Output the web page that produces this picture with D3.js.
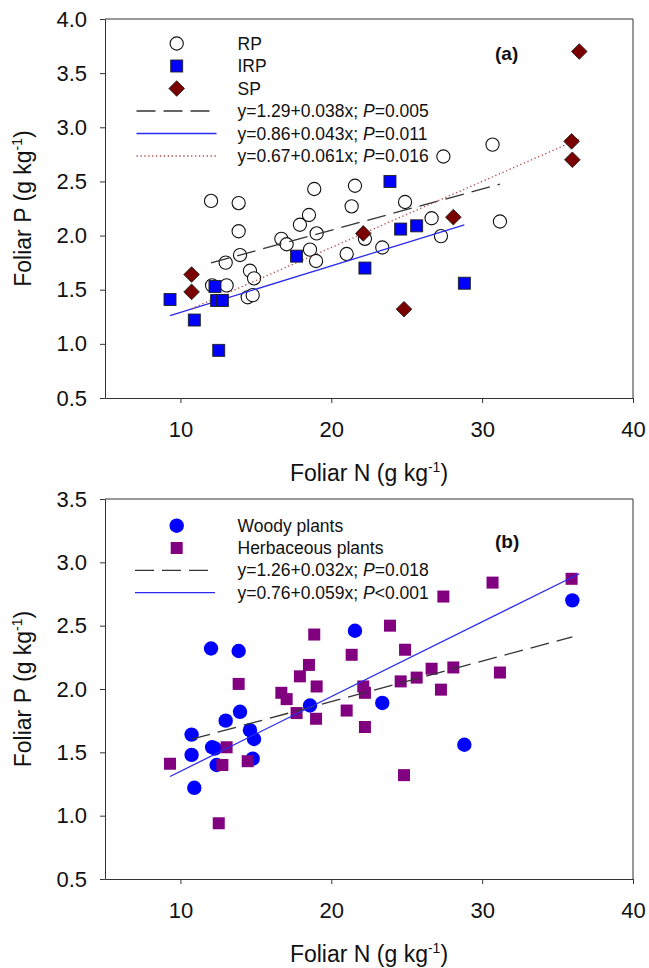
<!DOCTYPE html>
<html>
<head>
<meta charset="utf-8">
<script src="https://cdn.jsdelivr.net/npm/d3@7"></script>
<style>
  body { margin: 0; background: #fff; }
  svg { display: block; font-family: 'Liberation Sans', Arial, sans-serif; }
</style>
</head>
<body>
<div id="chart"></div>
<script>
// ---------- panel (a) : reproductive types ----------
var rpN = [12.03, 13.86, 13.86, 13.95, 13.00, 14.61, 14.88, 13.06, 12.10, 14.46, 14.79, 16.69, 17.04, 17.92, 18.52,
  19.03, 18.59, 18.99, 21.02, 21.35, 18.87, 21.57, 24.89, 22.23, 23.38, 26.65, 27.27, 31.18, 30.69, 27.43]
var rpP = [2.32, 2.30, 2.04, 1.82, 1.75, 1.675, 1.605, 1.54, 1.54, 1.43, 1.45, 1.97, 1.92, 2.10, 2.19,
  2.02, 1.87, 1.765, 1.83, 2.27, 2.43, 2.46, 2.31, 1.97, 1.89, 2.16, 1.995, 2.13, 2.84, 2.73]
var irpN = [9.31, 10.92, 12.54, 12.29, 12.40, 12.78, 17.70, 24.60, 25.66, 22.23, 28.82, 23.89]
var irpP = [1.41, 1.22, 0.94, 1.53, 1.40, 1.40, 1.81, 2.06, 2.09, 1.70, 1.56, 2.50]
var spN = [10.74, 10.74, 22.12, 28.09, 24.82, 36.44, 35.93, 35.98]
var spP = [1.64, 1.48, 2.02, 2.17, 1.32, 3.70, 2.87, 2.70]

// ---------- panel (b) : life forms ----------
var woodyN = [12.03, 13.86, 13.95, 13.00, 14.61, 14.88, 12.10, 14.79, 18.59, 21.57, 23.38,
  10.92, 12.29, 12.40, 28.82, 10.74, 10.74, 35.98]
var woodyP = [2.32, 2.30, 1.82, 1.75, 1.675, 1.605, 1.54, 1.45, 1.87, 2.46, 1.89,
  1.22, 1.53, 1.40, 1.56, 1.64, 1.48, 2.70]
var herbN = [13.86, 13.06, 14.46, 16.69, 17.04, 17.92, 18.52, 19.03, 18.99, 21.02, 21.35, 18.87, 24.89, 22.23,
  26.65, 27.27, 31.18, 30.69, 27.43, 9.31, 12.54, 12.78, 17.70, 24.60, 25.66, 22.23, 23.89,
  22.12, 28.09, 24.82, 36.44, 35.93]
var herbP = [2.04, 1.54, 1.43, 1.97, 1.92, 2.10, 2.19, 2.02, 1.765, 1.83, 2.27, 2.43, 2.31, 1.97,
  2.16, 1.995, 2.13, 2.84, 2.73, 1.41, 0.94, 1.40, 1.81, 2.06, 2.09, 1.70, 2.50,
  2.02, 2.17, 1.32, 3.70, 2.87]

// regressions (intercept, slope, P text)
var fitsA = [
  { name: 'RP', a: 1.29, b: 0.038, p: '=0.005' },
  { name: 'IRP', a: 0.86, b: 0.043, p: '=0.011' },
  { name: 'SP', a: 0.67, b: 0.061, p: '=0.016' }
]
var fitsB = [
  { name: 'Woody plants', a: 1.26, b: 0.032, p: '=0.018' },
  { name: 'Herbaceous plants', a: 0.76, b: 0.059, p: '<0.001' }
]

var xTicks = [10, 20, 30, 40]
var yTicksA = d3.range(0.5, 4.01, 0.5)
var yTicksB = d3.range(0.5, 3.51, 0.5)

var W = 649
var H = 968
var left = 105
var right = 633
var lineStyle = {
  dash: { stroke: '#333', dash: '19,8', w: 1.3 },
  blue: { stroke: '#2a2aee', dash: null, w: 1.3 },
  dot: { stroke: '#b04a4a', dash: '1.3,2.6', w: 1.3 }
}

var svg = d3.select('#chart').append('svg')
  .attr('width', W)
  .attr('height', H)

function zip (xs, ys) {
  return xs.map(function (v, i) { return { n: v, p: ys[i] } })
}

// frame, axes, titles
function panel (top, bottom, yMax, yTicks, id) {
  var x = d3.scaleLinear().domain([5, 40]).range([left, right])
  var y = d3.scaleLinear().domain([0.5, yMax]).range([bottom, top])
  var g = svg.append('g')

  g.append('clipPath').attr('id', id)
    .append('rect')
    .attr('x', left).attr('y', top)
    .attr('width', right - left).attr('height', bottom - top)

  var xAxis = g.append('g')
    .attr('transform', 'translate(0,' + bottom + ')')
    .call(d3.axisBottom(x).tickValues(xTicks).tickSize(5).tickPadding(18).tickSizeOuter(0))
  var yAxis = g.append('g')
    .attr('transform', 'translate(' + left + ',0)')
    .call(d3.axisLeft(y).tickValues(yTicks).tickFormat(d3.format('.1f')).tickSize(5).tickPadding(13).tickSizeOuter(0))
  ;[xAxis, yAxis].forEach(function (a) {
    a.select('.domain').attr('stroke', '#333')
    a.selectAll('.tick line').attr('stroke', '#333')
    a.selectAll('.tick text').attr('fill', '#111').style('font-size', '22px')
  })

  // top + right of box
  g.append('path')
    .attr('d', 'M' + left + ',' + top + 'H' + right + 'V' + bottom)
    .attr('fill', 'none')
    .attr('stroke', '#333')

  var xt = g.append('text')
    .attr('x', (left + right) / 2)
    .attr('y', bottom + 83)
    .attr('text-anchor', 'middle')
    .attr('fill', '#111')
    .style('font-size', '23px')
  unitText(xt, 'Foliar N (g kg')

  var yt = g.append('text')
    .attr('transform', 'translate(31,' + (top + bottom) / 2 + ')rotate(-90)')
    .attr('text-anchor', 'middle')
    .attr('fill', '#111')
    .style('font-size', '23px')
  unitText(yt, 'Foliar P (g kg')

  return { g: g, x: x, y: y }
}

function unitText (t, s) {
  t.append('tspan').text(s)
  t.append('tspan').attr('dy', -9).style('font-size', '14px').text('-1')
  t.append('tspan').attr('dy', 9).text(')')
}

function fitLine (g, x, y, fit, xs, st, clip) {
  var ext = d3.extent(xs)
  g.append('line')
    .attr('clip-path', clip ? 'url(#' + clip + ')' : null)
    .attr('x1', x(ext[0])).attr('y1', y(fit.a + fit.b * ext[0]))
    .attr('x2', x(ext[1])).attr('y2', y(fit.a + fit.b * ext[1]))
    .attr('stroke', st.stroke)
    .attr('stroke-width', st.w)
    .attr('stroke-dasharray', st.dash)
}

function legendText (g, xx, yy, s) {
  var t = g.append('text')
    .attr('x', xx).attr('y', yy)
    .attr('fill', '#111')
    .style('font-size', '17.5px')
  if (typeof s === 'string') {
    t.text(s)
  } else {
    t.append('tspan').text('y=' + s.a.toFixed(2) + '+' + s.b.toFixed(3) + 'x; ')
    t.append('tspan').style('font-style', 'italic').text('P')
    t.append('tspan').text(s.p)
  }
}

var diamond = 'M0,-7.8L7.8,0L0,7.8L-7.8,0Z'

// ================= panel (a) =================
var pa = panel(19, 398, 4.0, yTicksA, 'clipA')

pa.g.selectAll('.rp').data(zip(rpN, rpP)).enter()
  .append('circle')
  .attr('cx', function (d) { return pa.x(d.n) })
  .attr('cy', function (d) { return pa.y(d.p) })
  .attr('r', 6.6)
  .attr('fill', '#fff')
  .attr('stroke', '#111')
  .attr('stroke-width', 1.1)

fitLine(pa.g, pa.x, pa.y, fitsA[0], rpN, lineStyle.dash)
fitLine(pa.g, pa.x, pa.y, fitsA[1], irpN, lineStyle.blue)
fitLine(pa.g, pa.x, pa.y, fitsA[2], spN, lineStyle.dot)

pa.g.selectAll('.irp').data(zip(irpN, irpP)).enter()
  .append('rect')
  .attr('x', function (d) { return pa.x(d.n) - 6 })
  .attr('y', function (d) { return pa.y(d.p) - 6 })
  .attr('width', 12).attr('height', 12)
  .attr('fill', '#0000ff')
  .attr('stroke', '#222')
  .attr('stroke-width', 0.9)

pa.g.selectAll('.sp').data(zip(spN, spP)).enter()
  .append('path')
  .attr('d', diamond)
  .attr('transform', function (d) { return 'translate(' + pa.x(d.n) + ',' + pa.y(d.p) + ')' })
  .attr('fill', '#7a0000')
  .attr('stroke', '#222')
  .attr('stroke-width', 0.9)

// legend (a)
var lx = 176.7
var ly = 43.5
var step = 22.5
pa.g.append('circle').attr('cx', lx).attr('cy', ly).attr('r', 6.6)
  .attr('fill', '#fff').attr('stroke', '#111').attr('stroke-width', 1.1)
pa.g.append('rect').attr('x', lx - 6).attr('y', ly + step - 6).attr('width', 12).attr('height', 12)
  .attr('fill', '#0000ff').attr('stroke', '#222').attr('stroke-width', 0.9)
pa.g.append('path').attr('d', diamond).attr('transform', 'translate(' + lx + ',' + (ly + step * 2) + ')')
  .attr('fill', '#7a0000').attr('stroke', '#222').attr('stroke-width', 0.9)
;['RP', 'IRP', 'SP'].forEach(function (s, i) {
  legendText(pa.g, 237.5, ly + step * i + 6, s)
})
;[lineStyle.dash, lineStyle.blue, lineStyle.dot].forEach(function (st, i) {
  var yy = ly + step * (i + 3)
  pa.g.append('line')
    .attr('x1', 136.5).attr('x2', 216.5).attr('y1', yy).attr('y2', yy)
    .attr('stroke', st.stroke).attr('stroke-width', st.w).attr('stroke-dasharray', st.dash)
  legendText(pa.g, 237.5, yy + 6, fitsA[i])
})
pa.g.append('text').attr('x', 495).attr('y', 60)
  .attr('fill', '#111').style('font-size', '19px').style('font-weight', 'bold').text('(a)')

// ================= panel (b) =================
var pb = panel(499, 879, 3.5, yTicksB, 'clipB')

pb.g.append('g').attr('clip-path', 'url(#clipB)')
  .selectAll('circle').data(zip(woodyN, woodyP)).enter()
  .append('circle')
  .attr('cx', function (d) { return pb.x(d.n) })
  .attr('cy', function (d) { return pb.y(d.p) })
  .attr('r', 7.2)
  .attr('fill', '#0000ff')

pb.g.append('g').attr('clip-path', 'url(#clipB)')
  .selectAll('rect').data(zip(herbN, herbP)).enter()
  .append('rect')
  .attr('x', function (d) { return pb.x(d.n) - 6 })
  .attr('y', function (d) { return pb.y(d.p) - 6 })
  .attr('width', 12).attr('height', 12)
  .attr('fill', '#800080')

fitLine(pb.g, pb.x, pb.y, fitsB[0], woodyN, lineStyle.dash, 'clipB')
fitLine(pb.g, pb.x, pb.y, fitsB[1], herbN, lineStyle.blue, 'clipB')

// legend (b)
var ly2 = 525.7
var step2 = 22.3
pb.g.append('circle').attr('cx', lx).attr('cy', ly2).attr('r', 7.2).attr('fill', '#0000ff')
pb.g.append('rect').attr('x', lx - 6).attr('y', ly2 + step2 - 6).attr('width', 12).attr('height', 12)
  .attr('fill', '#800080')
legendText(pb.g, 237.5, ly2 + 6, fitsB[0].name)
legendText(pb.g, 237.5, ly2 + step2 + 6, fitsB[1].name)
;[lineStyle.dash, lineStyle.blue].forEach(function (st, i) {
  var yy = ly2 + step2 * (i + 2)
  pb.g.append('line')
    .attr('x1', 135).attr('x2', 215).attr('y1', yy).attr('y2', yy)
    .attr('stroke', st.stroke).attr('stroke-width', st.w).attr('stroke-dasharray', st.dash)
  legendText(pb.g, 237.5, yy + 6, fitsB[i])
})
pb.g.append('text').attr('x', 495).attr('y', 548)
  .attr('fill', '#111').style('font-size', '19px').style('font-weight', 'bold').text('(b)')
</script>
</body>
</html>
